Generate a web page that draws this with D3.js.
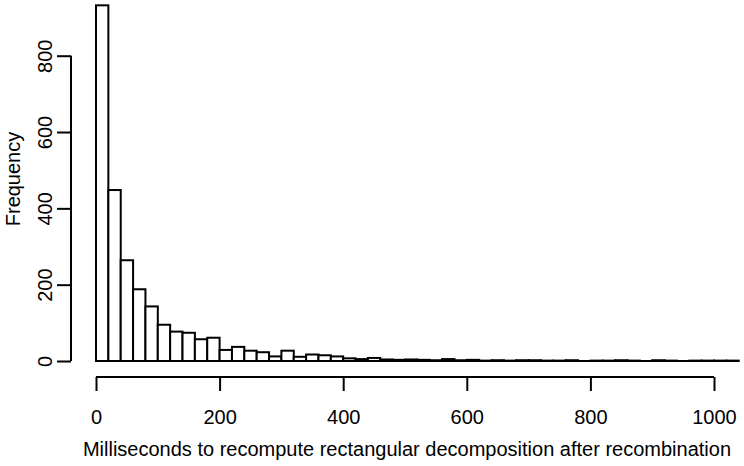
<!DOCTYPE html>
<html>
<head>
<meta charset="utf-8">
<script src="https://cdn.jsdelivr.net/npm/d3@7"></script>
<style>
  body { margin: 0; background: #fff; }
  svg { display: block; font-family: "Liberation Sans", Arial, sans-serif; }
  .axis path, .axis line { stroke: #000; stroke-width: 2px; }
  .axis text { font-size: 20px; fill: #000; }
</style>
</head>
<body>
<div id="chart"></div>
<script>
// histogram bins: 20 ms wide, starting at 0
var binWidth = 20;
var binStarts = d3.range(0, 1040, binWidth);
var counts = [
  932, 448, 264, 188, 143, 95, 77, 74, 57, 61,
  29, 37, 27, 23, 12, 27, 11, 17, 15, 12,
  7, 5, 8, 4, 3, 4, 3, 2, 5, 2,
  3, 1, 2, 1, 2, 2, 1, 1, 2, 0,
  1, 1, 2, 1, 0, 2, 1, 0, 1, 1,
  1, 1
];
var xTicks = [0, 200, 400, 600, 800, 1000];
var yTicks = [0, 200, 400, 600, 800];

var bins = binStarts.map(function (d, i) { return { x0: d, x1: d + binWidth, n: counts[i] }; });

var W = 744, H = 466;
var x = d3.scaleLinear().domain([0, 1000]).range([96, 714]);
var y = d3.scaleLinear().domain([0, 800]).range([361, 55.7]);

var svg = d3.select("#chart").append("svg")
    .attr("width", W)
    .attr("height", H);

// bars (empty bins still get a flat outline, like R)
svg.append("g")
    .selectAll("rect")
    .data(bins)
    .enter().append("rect")
    .attr("x", function (d) { return x(d.x0); })
    .attr("y", function (d) { return y(d.n); })
    .attr("width", function (d) { return x(d.x1) - x(d.x0); })
    .attr("height", function (d) { return Math.max(y(0) - y(d.n), 0.01); })
    .attr("fill", "#fff")
    .attr("stroke", "#000")
    .attr("stroke-width", 2);

// x axis
var gx = svg.append("g")
    .attr("class", "axis")
    .attr("transform", "translate(0,377)")
    .call(d3.axisBottom(x).tickValues(xTicks).tickSize(14).tickPadding(19).tickSizeOuter(0).tickFormat(d3.format("d")));
gx.select(".domain").attr("d", "M" + x(0) + ",0H" + x(1000));

// y axis
var gy = svg.append("g")
    .attr("class", "axis")
    .attr("transform", "translate(71,0)")
    .call(d3.axisLeft(y).tickValues(yTicks).tickSize(14).tickSizeOuter(0).tickFormat(d3.format("d")));
gy.select(".domain").attr("d", "M0," + y(0) + "V" + y(800));
gy.selectAll(".tick text")
    .attr("x", 0)
    .attr("dy", 0)
    .attr("text-anchor", "middle")
    .attr("transform", "translate(-19,0) rotate(-90)");

// axis titles
svg.append("text")
    .attr("x", 407)
    .attr("y", 456)
    .attr("text-anchor", "middle")
    .style("font-size", "20px")
    .text("Milliseconds to recompute rectangular decomposition after recombination");

svg.append("text")
    .attr("transform", "translate(20,179) rotate(-90)")
    .attr("text-anchor", "middle")
    .style("font-size", "20px")
    .text("Frequency");
</script>
</body>
</html>
